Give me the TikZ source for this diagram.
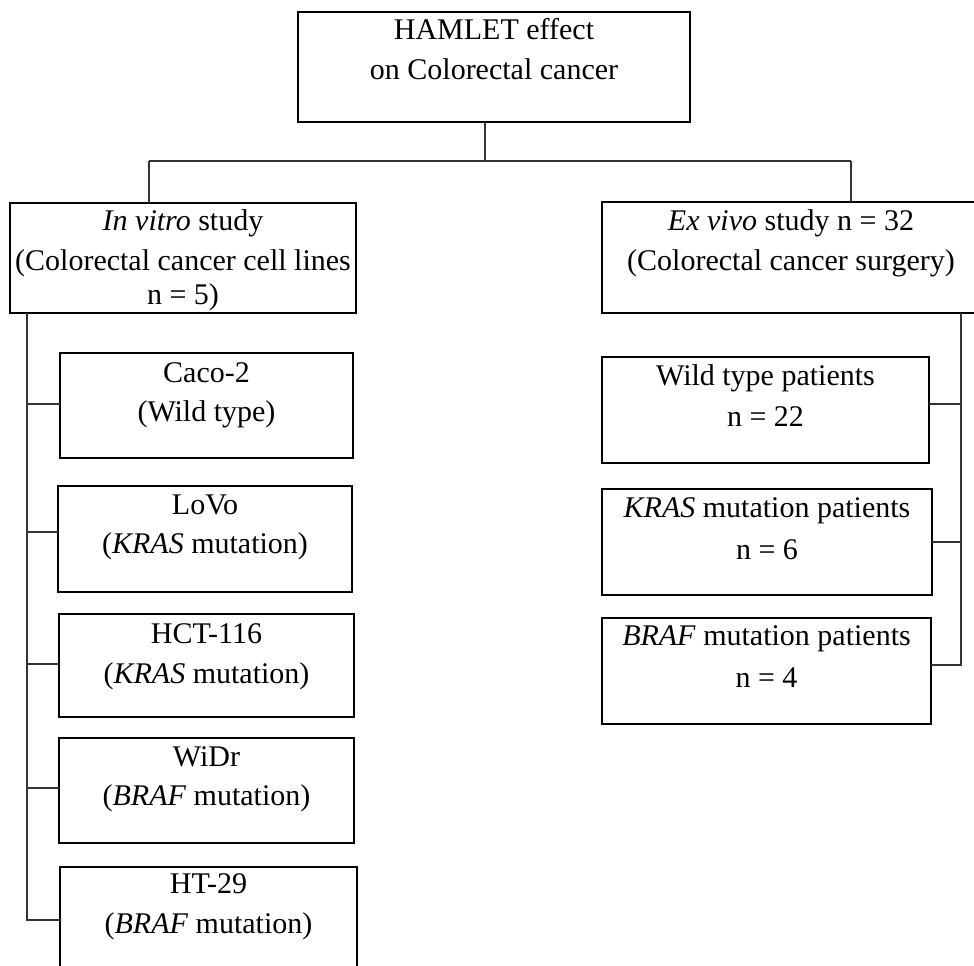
\documentclass[tikz,border=0pt]{standalone}
\usepackage{fontspec}
\setmainfont{Liberation Serif}
\begin{document}
\begin{tikzpicture}[x=0.75pt,y=-0.75pt,
  bx/.style 2 args={draw=black, line width=1.6pt, rectangle, inner sep=0pt, outer sep=0pt,
    minimum width=#1*0.75pt, minimum height=#2*0.75pt},
  lbl/.style={anchor=base, inner sep=0pt, font=\fontsize{22.5pt}{30pt}\selectfont},
  conn/.style={draw=black!80, line width=0.8pt}]
\useasboundingbox (0,0) rectangle (974,966);
\clip (0,0) rectangle (974,966);
% boxes
\node[bx={392}{110}] (top) at (494,67) {};
\node[bx={346}{110}] (invitro) at (183,258) {};
\node[bx={378}{111}] (exvivo) at (791,257.5) {};
\node[bx={293}{105}] (caco) at (206.5,405.5) {};
\node[bx={294}{106}] (lovo) at (205,539) {};
\node[bx={295}{103}] (hct) at (206.5,665.5) {};
\node[bx={295}{105}] (widr) at (206.5,790.5) {};
\node[bx={297}{105}] (ht) at (208.5,919.5) {};
\node[bx={327}{106}] (wt) at (765.5,410) {};
\node[bx={330}{106}] (kras) at (767,542) {};
\node[bx={329}{106}] (braf) at (766.5,671) {};
% texts
\node[lbl] (topA) at (494,40) {HAMLET effect};
\node[lbl] (topB) at (494,80) {on Colorectal cancer};
\node[lbl] (ivA) at (183,231) {\textit{In vitro} study};
\node[lbl] (ivB) at (183,271) {(Colorectal cancer cell lines};
\node[lbl] (ivC) at (183,304) {n = 5)};
\node[lbl] (evA) at (791,231) {\textit{Ex vivo} study n = 32};
\node[lbl] (evB) at (791,271) {(Colorectal cancer surgery)};
\node[lbl] (cacoA) at (206.5,382) {Caco-2};
\node[lbl] (cacoB) at (206.5,421) {(Wild type)};
\node[lbl] (lovoA) at (205,514) {LoVo};
\node[lbl] (lovoB) at (205,553) {(\textit{KRAS} mutation)};
\node[lbl] (hctA) at (206.5,643) {HCT-116};
\node[lbl] (hctB) at (206.5,683) {(\textit{KRAS} mutation)};
\node[lbl] (widrA) at (206.5,766) {WiDr};
\node[lbl] (widrB) at (206.5,805) {(\textit{BRAF} mutation)};
\node[lbl] (htA) at (208.5,893) {HT-29};
\node[lbl] (htB) at (208.5,933) {(\textit{BRAF} mutation)};
\node[lbl] (wtA) at (765.5,385) {Wild type patients};
\node[lbl] (wtB) at (765.5,426) {n = 22};
\node[lbl] (krasA) at (767,517) {\textit{KRAS} mutation patients};
\node[lbl] (krasB) at (767,559) {n = 6};
\node[lbl] (brafA) at (766.5,645) {\textit{BRAF} mutation patients};
\node[lbl] (brafB) at (766.5,687) {n = 4};
% connector points
\coordinate (hub) at (485,161);
\coordinate (hl) at (149,161);
\coordinate (hr) at (851,161);
\coordinate (cacoT) at (27,404);
\coordinate (lovoT) at (27,532);
\coordinate (hctT) at (27,664);
\coordinate (widrT) at (27,788);
\coordinate (htT) at (27,920);
\coordinate (wtT) at (961,404);
\coordinate (krasT) at (961,542);
\coordinate (brafT) at (961,665);
% connectors
\draw[conn] (top.south -| hub) -- (hub);
\draw[conn] (hl) -- (hr);
\draw[conn] (hl) -- (hl |- invitro.north);
\draw[conn] (hr) -- (hr |- exvivo.north);
\draw[conn] (invitro.south -| htT) -- (htT) -- (htT -| ht.west);
\draw[conn] (cacoT) -- (cacoT -| caco.west);
\draw[conn] (lovoT) -- (lovoT -| lovo.west);
\draw[conn] (hctT) -- (hctT -| hct.west);
\draw[conn] (widrT) -- (widrT -| widr.west);
\draw[conn] (exvivo.south -| brafT) -- (brafT) -- (brafT -| braf.east);
\draw[conn] (wtT) -- (wtT -| wt.east);
\draw[conn] (krasT) -- (krasT -| kras.east);
\end{tikzpicture}
\end{document}
